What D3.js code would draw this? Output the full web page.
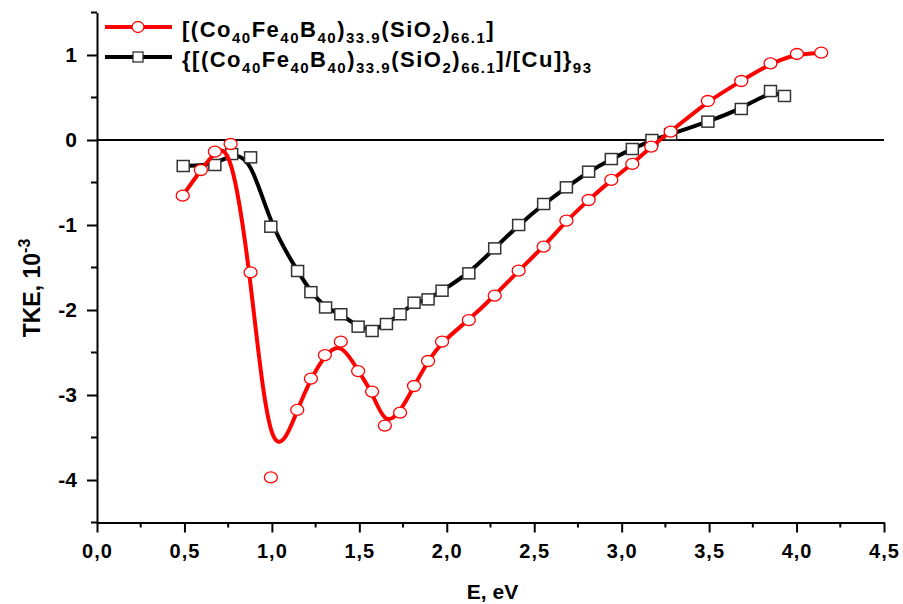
<!DOCTYPE html>
<html>
<head>
<meta charset="utf-8">
<script src="https://cdn.jsdelivr.net/npm/d3@7"></script>
<style>
	body { margin: 0; background: #fff; }
	svg { display: block; font-family: "Liberation Sans", Arial, sans-serif; font-weight: bold; }
</style>
</head>
<body>
<div id="root"></div>
<script>
// значения
const energyAlloy = [0.49, 0.594, 0.674, 0.764, 0.878, 0.994, 1.145, 1.223, 1.303, 1.394, 1.493, 1.573, 1.646, 1.733, 1.813, 1.893, 1.973, 2.126, 2.274, 2.411, 2.554, 2.684, 2.811, 2.941, 3.061, 3.169, 3.28, 3.493, 3.684, 3.851, 4.002, 4.141];
const tkeAlloy = [-0.655, -0.353, -0.137, -0.047, -1.557, -3.97, -3.176, -2.808, -2.53, -2.373, -2.718, -2.96, -3.36, -3.208, -2.894, -2.6, -2.373, -2.118, -1.831, -1.537, -1.255, -0.949, -0.706, -0.47, -0.282, -0.078, 0.098, 0.459, 0.694, 0.902, 1.012, 1.027];

const energyMulti = [0.493, 0.674, 0.77, 0.878, 0.994, 1.147, 1.223, 1.307, 1.394, 1.493, 1.573, 1.655, 1.733, 1.813, 1.893, 1.973, 2.126, 2.274, 2.411, 2.554, 2.684, 2.811, 2.941, 3.061, 3.173, 3.28, 3.493, 3.684, 3.851, 3.931];
const tkeMulti = [-0.306, -0.294, -0.165, -0.204, -1.02, -1.541, -1.79, -1.97, -2.05, -2.196, -2.247, -2.165, -2.05, -1.914, -1.875, -1.773, -1.569, -1.275, -1.0, -0.753, -0.557, -0.373, -0.224, -0.106, 0.0, 0.067, 0.216, 0.365, 0.576, 0.518];

const xTicks = [0, 0.5, 1, 1.5, 2, 2.5, 3, 3.5, 4, 4.5];
const xTickLabels = ["0,0", "0,5", "1,0", "1,5", "2,0", "2,5", "3,0", "3,5", "4,0", "4,5"];
const xMinorTicks = [0.25, 0.75, 1.25, 1.75, 2.25, 2.75, 3.25, 3.75, 4.25];
const yTicks = [-4, -3, -2, -1, 0, 1];
const yTickLabels = ["-4", "-3", "-2", "-1", "0", "1"];
const yMinorTicks = [-4.5, -3.5, -2.5, -1.5, -0.5, 0.5, 1.5];

// легенда: [текст, индекс?] — обычный текст и нижние индексы
const legendAlloy = [["[(Co", 0], ["40", 1], ["Fe", 0], ["40", 1], ["B", 0], ["40", 1], [")", 0], ["33.9", 1], ["(SiO", 0], ["2", 1], [")", 0], ["66.1", 1], ["]", 0]];
const legendMulti = [["{[(Co", 0], ["40", 1], ["Fe", 0], ["40", 1], ["B", 0], ["40", 1], [")", 0], ["33.9", 1], ["(SiO", 0], ["2", 1], [")", 0], ["66.1", 1], ["]/[Cu]}", 0], ["93", 1]];

let app = () => {
	const width = 903;
	const height = 604;
	const svg = d3.select("#root").append("svg").attr("width", width).attr("height", height);

	const x = d3.scaleLinear().domain([0, 4.5]).range([97, 884]);
	const y = d3.scaleLinear().domain([-4.5, 1.5]).range([522.5, 12.5]);

	// оси
	const xAxis = svg.append("g").attr("transform", "translate(0," + y(-4.5) + ")");
	xAxis.call(d3.axisBottom(x).tickValues(xTicks).tickSize(10).tickSizeOuter(0).tickFormat((d, i) => xTickLabels[i]));
	xAxis.append("g").selectAll("line").data(xMinorTicks).enter().append("line")
		.attr("x1", (d) => x(d)).attr("x2", (d) => x(d)).attr("y1", 0).attr("y2", 5);

	const yAxis = svg.append("g").attr("transform", "translate(" + x(0) + ",0)");
	yAxis.call(d3.axisLeft(y).tickValues(yTicks).tickSize(10).tickSizeOuter(0).tickFormat((d, i) => yTickLabels[i]));
	yAxis.append("g").selectAll("line").data(yMinorTicks).enter().append("line")
		.attr("x1", 0).attr("x2", -6).attr("y1", (d) => y(d)).attr("y2", (d) => y(d));

	svg.selectAll(".domain").attr("stroke", "#000").attr("stroke-width", 2);
	svg.selectAll(".tick line, g > g > line").attr("stroke", "#000").attr("stroke-width", 2);
	[xAxis, yAxis].forEach((a) => a.attr("font-family", "'Liberation Sans', Arial, sans-serif").attr("font-weight", "bold"));
	xAxis.selectAll(".tick text")
		.attr("y", 35).attr("dy", 0)
		.attr("letter-spacing", 1)
		.style("font-size", "20px").attr("fill", "#000");
	yAxis.selectAll(".tick text")
		.attr("x", -20)
		.style("font-size", "21px").attr("fill", "#000");

	// нулевая линия
	svg.append("line")
		.attr("x1", x(0)).attr("x2", x(4.5))
		.attr("y1", y(0)).attr("y2", y(0))
		.attr("stroke", "#000").attr("stroke-width", 2);

	// подписи осей
	svg.append("text")
		.attr("x", x(2.25) + 2).attr("y", 599)
		.attr("text-anchor", "middle")
		.style("font-size", "21px")
		.text("E, eV");

	const yTitle = svg.append("text")
		.attr("transform", "translate(40,288) rotate(-90)")
		.attr("text-anchor", "middle")
		.style("font-size", "23px");
	yTitle.append("tspan").text("TKE, 10");
	yTitle.append("tspan").attr("dy", -10).style("font-size", "16px").text("-3");

	// кривые
	const line = d3.line().x((d) => x(d[0])).y((d) => y(d[1])).curve(d3.curveBasis);
	const multi = d3.zip(energyMulti, tkeMulti);
	const alloy = d3.zip(energyAlloy, tkeAlloy);

	svg.append("path").datum(multi).attr("d", line)
		.attr("fill", "none").attr("stroke", "#000").attr("stroke-width", 4);
	svg.append("g").selectAll("rect").data(multi).enter().append("rect")
		.attr("x", (d) => x(d[0]) - 6).attr("y", (d) => y(d[1]) - 5.5)
		.attr("width", 12).attr("height", 11)
		.attr("fill", "#fff").attr("stroke", "#333").attr("stroke-width", 1.5);

	svg.append("path").datum(alloy).attr("d", line)
		.attr("fill", "none").attr("stroke", "#ff0000").attr("stroke-width", 4);
	svg.append("g").selectAll("ellipse").data(alloy).enter().append("ellipse")
		.attr("cx", (d) => x(d[0])).attr("cy", (d) => y(d[1]))
		.attr("rx", 6.5).attr("ry", 5.5)
		.attr("fill", "#fff").attr("stroke", "#ff0000").attr("stroke-width", 1.3);

	// легенда
	const legend = svg.append("g");
	const addEntry = (yPos, color, isCircle, parts) => {
		legend.append("line").attr("x1", 105).attr("x2", 172).attr("y1", yPos).attr("y2", yPos)
			.attr("stroke", color).attr("stroke-width", 4);
		if (isCircle) {
			legend.append("ellipse").attr("cx", 138).attr("cy", yPos).attr("rx", 6).attr("ry", 5.5)
				.attr("fill", "#fff").attr("stroke", color).attr("stroke-width", 1.3);
		} else {
			legend.append("rect").attr("x", 133).attr("y", yPos - 5).attr("width", 10).attr("height", 10)
				.attr("fill", "#fff").attr("stroke", "#333").attr("stroke-width", 1.3);
		}
		const t = legend.append("text").attr("x", 182).attr("y", yPos + 10)
			.attr("letter-spacing", 1.5).style("font-size", "22px");
		let sub = false;
		parts.forEach((p) => {
			const s = t.append("tspan").text(p[0]);
			if (p[1] && !sub) { s.attr("dy", 6).style("font-size", "15px"); sub = true; }
			else if (!p[1] && sub) { s.attr("dy", -6); sub = false; }
			else if (p[1]) { s.style("font-size", "15px"); }
		});
	};
	addEntry(27, "#ff0000", true, legendAlloy);
	addEntry(57, "#000", false, legendMulti);

	return svg.node();
};

app();
</script>
</body>
</html>
